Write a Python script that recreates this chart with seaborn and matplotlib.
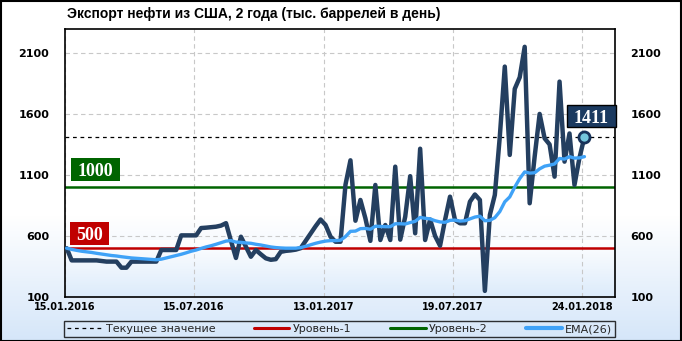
import numpy as np
import pandas as pd
import matplotlib
matplotlib.use("Agg")
import matplotlib.pyplot as plt
import seaborn as sns
from matplotlib.colors import LinearSegmentedColormap
from matplotlib.lines import Line2D
from matplotlib.patches import Rectangle

# ---------------- data ----------------
title = "Экспорт нефти из США, 2 года (тыс. баррелей в день)"
week = list(range(105))
exports = [500, 400, 400, 400, 400, 400, 400, 395, 390, 390,
           390, 340, 340, 390, 390, 390, 390, 390, 390, 485,
           485, 485, 485, 605, 605, 605, 605, 665, 668, 672,
           676, 685, 705, 560, 420, 594, 512, 430, 485, 450,
           417, 405, 410, 470, 478, 482, 488, 500, 560, 620,
           680, 735, 690, 594, 553, 553, 1020, 1220, 725, 895,
           745, 560, 1018, 567, 690, 567, 1168, 570, 758, 1090,
           622, 1315, 567, 735, 600, 520, 731, 922, 731, 704,
           704, 881, 940, 895, 150, 772, 936, 1414, 1988, 1264,
           1805, 1900, 2150, 868, 1250, 1600, 1400, 1350, 1086, 1865,
           1209, 1440, 1018, 1240, 1411]
ema26 = [500, 490, 482, 475, 470, 465, 458, 452, 446, 440,
         436, 430, 425, 420, 417, 414, 411, 408, 405, 410,
         420, 430, 440, 450, 462, 475, 485, 498, 510, 520,
         532, 545, 558, 562, 550, 548, 543, 540, 532, 526,
         518, 510, 505, 502, 500, 500, 500, 505, 515, 528,
         540, 550, 558, 562, 562, 565, 595, 638, 640, 660,
         662, 655, 680, 678, 676, 676, 700, 700, 698, 710,
         720, 752, 745, 740, 725, 715, 712, 728, 730, 722,
         725, 740, 755, 762, 725, 728, 750, 800, 880, 920,
         1000, 1070, 1125, 1115, 1118, 1150, 1172, 1180, 1190, 1235,
         1230, 1250, 1238, 1240, 1250]
current_value = 1411
level_1 = 500
level_2 = 1000
x_tick_weeks = [0, 26, 52, 78, 104]
x_tick_labels = ["15.01.2016", "15.07.2016", "13.01.2017", "19.07.2017", "24.01.2018"]
y_ticks = [100, 600, 1100, 1600, 2100]
legend_labels = ["Текущее значение", "Уровень-1", "Уровень-2", "EMA(26)"]

# ---------------- style ----------------
sns.set_theme(style="white")
plt.rcParams["font.family"] = ["DejaVu Sans"]

W, H = 682, 341
fig = plt.figure(figsize=(W / 100, H / 100), dpi=100)
fig.patch.set_facecolor("white")

# figure background gradient
bg = fig.add_axes([0, 0, 1, 1], zorder=-10)
rows = np.arange(H)
v = np.clip((rows - 215) / (H - 215), 0, 1)
cmap_bg = LinearSegmentedColormap.from_list("bg", ["#ffffff", "#d5e6f9"])
bg.imshow(v[:, None], aspect="auto", cmap=cmap_bg, vmin=0, vmax=1,
          extent=[0, 1, 0, 1], origin="upper")
bg.set_axis_off()

# plot axes
left, right, top, bottom = 64.5, 615.3, 28.5, 297.0
ax = fig.add_axes([left / W, 1 - bottom / H, (right - left) / W, (bottom - top) / H])
ax.patch.set_alpha(0)

xlo, xhi = -0.44, 110.2
ylo, yhi = 100, 2300

# inner gradient (bottom of plot area)
g_top_val = ylo + (bottom - 240) / (bottom - top) * (yhi - ylo)
g = np.linspace(0, 1, 100)
cmap_in = LinearSegmentedColormap.from_list("inner", ["#ffffff", "#dcebfb"])
ax.imshow(g[::-1, None], aspect="auto", cmap=cmap_in, vmin=0, vmax=1,
          extent=[xlo, xhi, ylo, g_top_val], origin="lower", zorder=0)

df = pd.DataFrame({"week": week, "exports": exports, "ema": ema26})

# grid
for yt in y_ticks:
    ax.axhline(yt, color="#c8c8c8", lw=0.8, ls=(0, (4, 3)), zorder=1)
for xt in x_tick_weeks:
    ax.axvline(xt - 0.4, color="#c8c8c8", lw=0.8, ls=(0, (4, 3)), zorder=1)

ax.axhline(current_value, color="black", lw=0.9, ls=(0, (3, 3)), zorder=2)
ax.axhline(level_1, color="#c00000", lw=1.8, zorder=2)
ax.axhline(level_2, color="#006400", lw=1.8, zorder=2)

sns.lineplot(data=df, x="week", y="exports", ax=ax, color="#243f60", lw=3.2,
             zorder=4, solid_joinstyle="round")
sns.lineplot(data=df, x="week", y="ema", ax=ax, color="#3fa2f7", lw=2.4, zorder=5)
ax.plot([week[-1]], [exports[-1]], "o", ms=8, mfc="#74c6dc", mec="#17325a",
        mew=2, zorder=6)

ax.set_xlim(xlo, xhi)
ax.set_ylim(ylo, yhi)
ax.set_xticks([w - 0.4 for w in x_tick_weeks])
ax.set_xticklabels(x_tick_labels)
ax.set_yticks(y_ticks)
ax.set_yticklabels([str(t) for t in y_ticks])
ax.set_xlabel("")
ax.set_ylabel("")
ax.tick_params(axis="y", length=0, pad=11, labelsize=8, labelright=True,
               labelleft=True)
ax.tick_params(axis="x", length=0, pad=3.5, labelsize=7)
for lab in ax.get_yticklabels() + ax.get_xticklabels():
    lab.set_fontweight("bold")
    lab.set_color("black")
for sp in ax.spines.values():
    sp.set_visible(True)
    sp.set_color("black")
    sp.set_linewidth(1.2)

# title
fig.text(67 / W, 1 - 14 / H, title, ha="left", va="center", fontsize=10,
         fontweight="bold", color="black", family="Liberation Sans")


def px_box(x0, y0, x1, y1, color, text, edge="none"):
    fig.add_artist(Rectangle((x0 / W, 1 - y1 / H), (x1 - x0) / W, (y1 - y0) / H,
                             transform=fig.transFigure, fc=color, ec=edge,
                             lw=1, zorder=10))
    fig.text((x0 + x1) / 2 / W, 1 - (y0 + y1) / 2 / H, text, ha="center",
             va="center_baseline", color="white", fontsize=13,
             fontweight="bold", family="Liberation Serif", zorder=11)


px_box(71, 158.3, 120, 180.7, "#006400", str(level_2))
px_box(70, 222.3, 109, 245, "#c00000", str(level_1))
px_box(567.3, 105, 615.7, 127.3, "#1b3a60", str(current_value), edge="black")

# legend
handles = [
    Line2D([], [], color="black", lw=0.9, ls=(0, (3, 3))),
    Line2D([], [], color="#c00000", lw=2.2),
    Line2D([], [], color="#006400", lw=2.2),
    Line2D([], [], color="#3fa2f7", lw=3),
]
leg = fig.legend(handles, legend_labels, loc="lower left",
                 bbox_to_anchor=(64 / W, 1 - 337 / H, (615 - 64) / W, 18 / H),
                 mode="expand", ncol=4, frameon=True, fancybox=False,
                 fontsize=8, handlelength=3.2, handletextpad=0.3,
                 borderpad=0.25, borderaxespad=0, columnspacing=1.0)
leg.get_frame().set_edgecolor("black")
leg.get_frame().set_linewidth(1.0)
leg.get_frame().set_facecolor("none")

# outer border
fig.add_artist(Rectangle((0.5 / W, 0.5 / H), (W - 1.5) / W, (H - 1.5) / H,
                         transform=fig.transFigure, fill=False, ec="black",
                         lw=1.5, zorder=20))

fig.savefig("out.png", dpi=100)
